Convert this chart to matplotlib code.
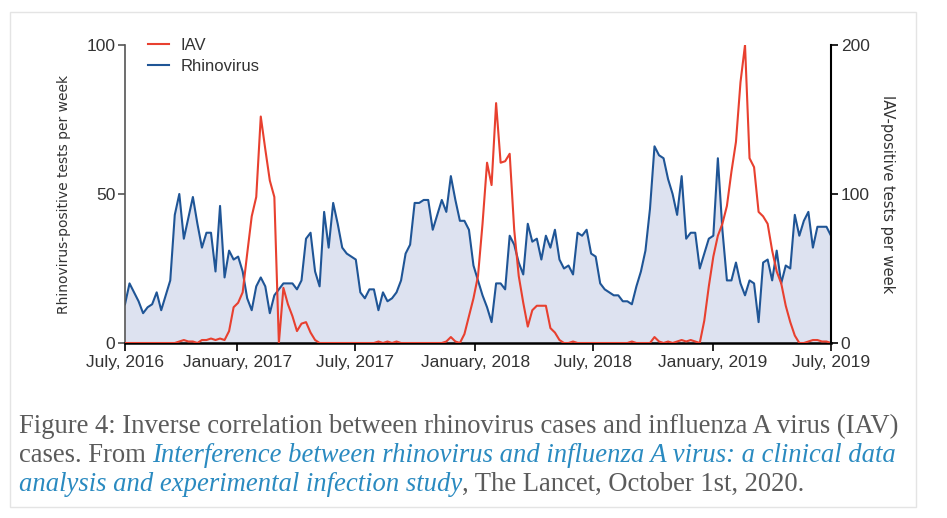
import matplotlib
matplotlib.use("Agg")
import matplotlib.pyplot as plt
from matplotlib.patches import Rectangle
import numpy as np
import pandas as pd

# weekly counts (Lancet, 2020)
week_start = "2016-07-13"
week_end = "2019-07-01"

rhinovirus = [
    13, 20, 17, 14, 10, 12, 13, 17, 11, 16, 21, 43, 50, 35, 42, 49, 40, 32, 37, 37,
    24, 46, 22, 31, 28, 29, 24, 15, 11, 19, 22, 19, 10, 16, 18, 20, 20, 20, 18, 21,
    35, 37, 24, 19, 44, 32, 47, 40, 32, 30, 29, 28, 17, 15, 18, 18, 11, 17, 14, 15,
    17, 21, 30, 33, 47, 47, 48, 48, 38, 43, 48, 44, 56, 48, 41, 41, 38, 26, 21, 16,
    12, 7, 20, 20, 18, 36, 33, 27, 23, 40, 34, 35, 28, 36, 32, 38, 28, 25, 26, 23,
    37, 36, 38, 30, 29, 20, 18, 17, 16, 16, 14, 14, 13, 19, 24, 31, 45, 66, 63, 62,
    55, 50, 43, 56, 35, 37, 37, 25, 30, 35, 36, 62, 38, 21, 21, 27, 20, 16, 21, 20,
    7, 27, 28, 21, 31, 20, 26, 25, 43, 36, 41, 44, 32, 39, 39, 39, 36,
]

iav = [
    0, 0, 0, 0, 0, 0, 0, 0, 0, 0, 0, 0, 1, 2, 1, 1, 0, 2, 2, 3,
    2, 3, 2, 8, 24, 27, 34, 60, 85, 98, 152, 130, 109, 98, 0, 37, 26, 18, 8, 13,
    14, 7, 2, 0, 0, 0, 0, 0, 0, 0, 0, 0, 0, 0, 0, 0, 1, 0, 1, 0,
    1, 0, 0, 0, 0, 0, 0, 0, 0, 0, 0, 1, 4, 1, 0, 6, 18, 30, 45, 80,
    121, 106, 161, 121, 122, 127, 76, 45, 27, 11, 22, 25, 25, 25, 10, 7, 2, 0, 0, 1,
    0, 0, 0, 0, 0, 0, 0, 0, 0, 0, 0, 0, 1, 0, 0, 0, 0, 4, 1, 0,
    1, 0, 1, 2, 1, 2, 1, 0, 15, 38, 58, 72, 80, 92, 115, 135, 175, 200, 124, 118,
    88, 85, 80, 62, 48, 40, 25, 14, 5, 0, 0, 1, 2, 2, 1, 1, 0,
]

tick_dates = ["2016-07-13", "2017-01-01", "2017-07-01", "2018-01-01",
              "2018-07-01", "2019-01-01", "2019-07-01"]
tick_labels = ["July, 2016", "January, 2017", "July, 2017", "January, 2018",
               "July, 2018", "January, 2019", "July, 2019"]

weeks = pd.date_range(week_start, week_end, periods=len(rhinovirus))

blue = "#1f5596"
red = "#e8402f"
fill = "#dde2f0"
sans = ["Liberation Sans", "DejaVu Sans"]
txt = "#333333"

fig = plt.figure(figsize=(9.47, 5.18), dpi=100)
ax = fig.add_axes([125 / 947, 1 - 343 / 518, 706 / 947, 298 / 518])
ax2 = ax.twinx()

ax.fill_between(weeks, rhinovirus, 0, color=fill, lw=0)
l_rv, = ax.plot(weeks, rhinovirus, color=blue, lw=1.5, label="Rhinovirus")
l_iav, = ax2.plot(weeks, iav, color=red, lw=1.5, label="IAV")

ax.set_xlim(weeks[0], weeks[-1])
ax.set_ylim(0, 100)
ax2.set_ylim(0, 200)
ax.set_yticks([0, 50, 100])
ax2.set_yticks([0, 100, 200])
ax.set_xticks(pd.to_datetime(tick_dates))
ax.set_xticklabels(tick_labels, fontfamily=sans, fontsize=12.5, color=txt)

for a in (ax, ax2):
    a.spines["top"].set_visible(False)
    a.patch.set_visible(False)
ax.spines["right"].set_visible(False)
ax2.spines["left"].set_visible(False)
ax2.spines["bottom"].set_visible(False)
ax.spines["left"].set_color("#555555")
ax.spines["left"].set_linewidth(1.2)
ax.spines["bottom"].set_linewidth(1.8)
ax2.spines["right"].set_linewidth(1.5)

ax.tick_params(axis="x", direction="out", length=6, width=1.2, pad=3)
ax.tick_params(axis="y", direction="out", length=5, width=1.2, colors="#555555",
               labelcolor=txt, labelsize=12.5, pad=2)
ax2.tick_params(axis="y", direction="out", length=5, width=1.2, labelcolor=txt,
                labelsize=12.5, pad=2)
for lab in ax.get_yticklabels() + ax2.get_yticklabels():
    lab.set_fontfamily(sans)

ax.set_ylabel("Rhinovirus-positive tests per week", fontsize=10, color=txt, labelpad=11)
ax2.set_ylabel("IAV-positive tests per week", fontsize=10.5, color=txt,
               rotation=270, labelpad=18)

leg = ax2.legend(handles=[l_iav, l_rv], loc="upper left", bbox_to_anchor=(0.012, 1.075),
                 frameon=False, handlelength=1.25, handletextpad=0.7, labelspacing=0.4,
                 prop={"family": sans, "size": 12})
for t in leg.get_texts():
    t.set_color(txt)

# caption underneath, in mixed styles
grey = "#5b5b5b"
link = "#2a8ac0"
cap_size = 19.2
lines = [
    [("Figure 4: Inverse correlation between rhinovirus cases and influenza A virus (IAV)", grey, "normal")],
    [("cases. From", grey, "normal"),
     ("Interference between rhinovirus and influenza A virus: a clinical data", link, "italic")],
    [("analysis and experimental infection study", link, "italic"),
     (", The Lancet, October 1st, 2020.", grey, "normal")],
]
baselines = [433, 462, 491]

renderer = fig.canvas.get_renderer()
for parts, base in zip(lines, baselines):
    x_px = 19
    for i, (s, col, style) in enumerate(parts):
        if i > 0 and not s.startswith(","):
            x_px += cap_size * 100 / 72 * 0.25
        t = fig.text(x_px / 947, 1 - base / 518, s, color=col, style=style,
                     fontfamily="Liberation Serif", fontsize=cap_size, va="baseline")
        x_px = t.get_window_extent(renderer).x1

fig.add_artist(Rectangle((10 / 947, 1 - 507 / 518), 906 / 947, 495 / 518,
                         transform=fig.transFigure, fill=False, ec="#e4e4e4", lw=1))

fig.savefig("out.png", dpi=100)
